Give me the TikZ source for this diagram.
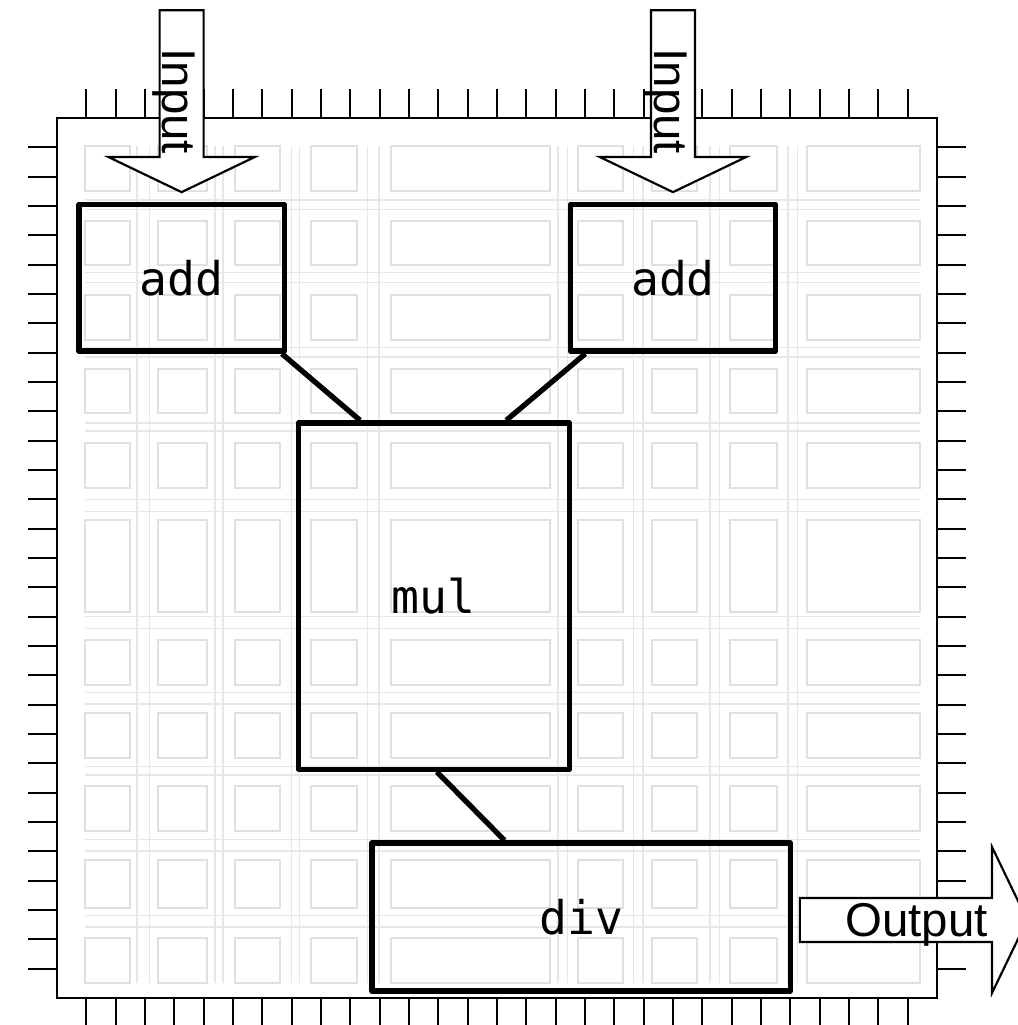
\documentclass[tikz,border=0pt]{standalone}
\usepackage{fontspec}
\newfontfamily\labelfont{Liberation Sans}
\newfontfamily\opfont{DejaVu Sans Mono}

\tikzset{
  cell/.style={draw=gray!24,line width=1.8pt},
  chan/.style={draw=gray!19,line width=1.1pt},
  pin/.style={line width=2.1pt},
  op/.style={draw,line width=0.18cm,line join=round,inner sep=0pt,
    font=\opfont\fontsize{45}{50}\selectfont},
  wire/.style={line width=0.18cm},
  io/.style={draw,fill=white,line width=2.1pt},
  iotext/.style={inner sep=0pt,font=\labelfont\fontsize{46}{50}\selectfont}
}

\begin{document}
\begin{tikzpicture}
  \useasboundingbox (-1.94,-0.92) rectangle (32.76,34.02);
  % fabric: routing channels, then the logic cells
  \foreach \x in {2.73,3.17,5.39,5.66,8.01,8.28,10.6,10.98,17.08,17.39,19.64,19.98,22.26,22.6,24.92,25.23}
    \draw[chan] (\x,0.51) -- (\x,29.05);
  \foreach \y in {27.2,26.87,24.72,24.38,22.16,21.85,19.6,19.33,16.98,16.57,12.99,12.61,10.4,10.02,7.88,7.6,5.39,5.01,2.8,2.42}
    \draw[chan] (0.95,\y) -- (29.42,\y);
  \foreach \xa/\xb in {0.95/2.49,3.44/5.11,6.07/7.6,8.66/10.23,11.39/16.81,17.76/19.3,20.28/21.82,22.94/24.55,25.57/29.42}
    \foreach \ya/\yb in {27.51/29.05,24.99/26.49,22.43/23.97,19.94/21.44,17.39/18.92,13.16/16.3,10.67/12.2,8.18/9.72,5.69/7.23,3.07/4.7,0.51/2.05}
      \draw[cell] (\xa,\ya) rectangle (\xb,\yb);
  % chip outline with its pins
  \draw[pin] (0,0) rectangle (30,30);
  \foreach \i in {1,...,29} {
    \draw[pin] (\i,30) -- (\i,31);
    \draw[pin] (\i,0) -- (\i,-1);
    \draw[pin] (0,\i) -- (-1,\i);
    \draw[pin] (30,\i) -- (31,\i);
  }
  % operators
  \node[op,minimum width=7cm,minimum height=5cm] (add1) at (4.25,24.55) {add};
  \node[op,minimum width=7cm,minimum height=5cm] (add2) at (21,24.55) {add};
  \node[op,minimum width=9.25cm,minimum height=11.8cm] (mul) at (12.85,13.7) {mul};
  \node[op,minimum width=14.25cm,minimum height=5.05cm] (div) at (17.87,2.76) {div};
  % wires
  \draw[wire] ([xshift=-0.17cm]add1.south east) -- ([xshift=2.2cm]mul.north west);
  \draw[wire] ([xshift=0.6cm]add2.south west) -- ([xshift=-2.25cm]mul.north east);
  \draw[wire] ([xshift=0.1cm]mul.south) -- ([xshift=4.6cm]div.north west);
  % inputs
  \foreach \n in {1,2} {
    \draw[io] ([yshift=0.33cm]add\n.north) -- ++(-2.5,1.2) -- ++(1.75,0) -- ++(0,5)
      -- ++(1.5,0) -- ++(0,-5) -- ++(1.75,0) -- cycle;
    \node[iotext,rotate=-90,anchor=base east] (in\n) at ([shift={(-0.64,1.62)}]add\n.north) {Input};
  }
  % output
  \draw[io] ([shift={(0.24,-0.85)}]div.east) -- ++(6.55,0) -- ++(0,-1.74) -- ++(1.2,2.49)
    -- ++(-1.2,2.49) -- ++(0,-1.74) -- ++(-6.55,0) -- cycle;
  \node[iotext,anchor=base east] (out) at ([shift={(6.65,-0.68)}]div.east) {Output};
\end{tikzpicture}
\end{document}
